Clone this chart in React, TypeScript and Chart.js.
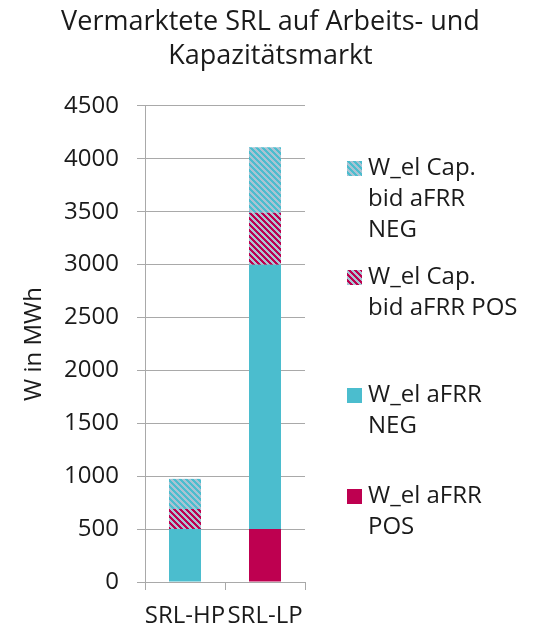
import React, { useEffect, useRef } from "react";
import { Chart, registerables } from "chart.js";

Chart.register(...registerables);

const categories = ["SRL-HP", "SRL-LP"];
const wElAfrrPos = [0, 500];
const wElAfrrNeg = [500, 2500];
const wElCapPos = [190, 490];
const wElCapNeg = [285, 620];

const seriesLabels = [
  "W_el aFRR POS",
  "W_el aFRR NEG",
  "W_el Cap. bid aFRR POS",
  "W_el Cap. bid aFRR NEG",
];
const legendLines = [
  ["W_el aFRR", "POS"],
  ["W_el aFRR", "NEG"],
  ["W_el Cap.", "bid aFRR POS"],
  ["W_el Cap.", "bid aFRR", "NEG"],
];
const titleLines = ["Vermarktete SRL auf Arbeits- und", "Kapazitätsmarkt"];
const yTitle = "W in MWh";

const CYAN = "#4BBDCE";
const CRIMSON = "#BE0050";
const LIGHT = "#A9C3D3";
const TEXT = "#1a1a1a";
const GRID = "#a9a9a9";
const FONT = "'Open Sans', 'Noto Sans', sans-serif";

// legend layout (drawn by a small plugin, right of the plot)
const LEGEND_BOX_X = 347;
const LEGEND_TEXT_X = 368;
const LEGEND_BOX = 15;
const LEGEND_ITEM_Y = [168, 277, 395, 496]; // first-line centres, top item first
const LEGEND_LINE_H = 31;
const Y_AXIS_WIDTH = 145;
const X_AXIS_HEIGHT = 45;
const RIGHT_SPACE = 236;

function makePattern(fg: string, bg: string): CanvasPattern | string {
  const size = 6;
  const c = document.createElement("canvas");
  c.width = size;
  c.height = size;
  const g = c.getContext("2d");
  if (!g) return fg;
  g.fillStyle = bg;
  g.fillRect(0, 0, size, size);
  g.fillStyle = fg;
  for (let y = 0; y < size; y++) {
    for (let x = 0; x < size; x++) {
      if ((x - y + size * 2) % size < 3) g.fillRect(x, y, 1, 1);
    }
  }
  const p = g.createPattern(c, "repeat");
  return p || fg;
}

const sideLegend = {
  id: "sideLegend",
  afterDraw(chart: any) {
    const ctx = chart.ctx as CanvasRenderingContext2D;
    const ds = chart.data.datasets;
    const order = ds.map((_: any, i: number) => i).reverse();
    ctx.save();
    ctx.font = `24px ${FONT}`;
    ctx.textBaseline = "middle";
    ctx.textAlign = "left";
    order.forEach((dsIndex: number, k: number) => {
      const cy = LEGEND_ITEM_Y[k];
      ctx.fillStyle = ds[dsIndex].backgroundColor;
      ctx.fillRect(LEGEND_BOX_X, Math.round(cy - LEGEND_BOX / 2), LEGEND_BOX, LEGEND_BOX);
      ctx.fillStyle = TEXT;
      legendLines[dsIndex].forEach((line, j) => {
        ctx.fillText(line, LEGEND_TEXT_X, cy + j * LEGEND_LINE_H);
      });
    });
    ctx.restore();
  },
};

export default function App() {
  const ref = useRef<HTMLCanvasElement | null>(null);

  useEffect(() => {
    const canvas = ref.current;
    if (!canvas) return;
    const capNegPattern = makePattern(CYAN, LIGHT);
    const capPosPattern = makePattern(CRIMSON, LIGHT);

    const chart = new Chart(canvas, {
      type: "bar",
      data: {
        labels: categories,
        datasets: [
          { label: seriesLabels[0], data: wElAfrrPos, backgroundColor: CRIMSON },
          { label: seriesLabels[1], data: wElAfrrNeg, backgroundColor: CYAN },
          { label: seriesLabels[2], data: wElCapPos, backgroundColor: capPosPattern as any },
          { label: seriesLabels[3], data: wElCapNeg, backgroundColor: capNegPattern as any },
        ],
      },
      plugins: [sideLegend],
      options: {
        animation: false,
        responsive: false,
        devicePixelRatio: 1,
        datasets: { bar: { barPercentage: 0.4, categoryPercentage: 1.0, borderWidth: 0 } } as any,
        layout: { padding: 0 },
        plugins: {
          title: {
            display: true,
            text: titleLines,
            color: TEXT,
            fullSize: true,
            font: { family: FONT, size: 27, weight: "normal", lineHeight: 1.24 },
            padding: { top: 6, bottom: 33 },
          },
          legend: { display: false },
          tooltip: { enabled: false },
        },
        scales: {
          x: {
            stacked: true,
            grid: { offset: true, drawOnChartArea: false, color: GRID, tickLength: 8 },
            border: { color: GRID },
            ticks: {
              color: TEXT,
              font: { family: FONT, size: 24 },
              padding: 12,
              maxRotation: 0,
              minRotation: 0,
              autoSkip: false,
            },
            afterFit: (s: any) => {
              s.height = X_AXIS_HEIGHT;
            },
          },
          y: {
            stacked: true,
            min: 0,
            max: 4500,
            grid: { color: GRID, tickLength: 8 },
            border: { color: GRID },
            ticks: {
              stepSize: 500,
              color: TEXT,
              font: { family: FONT, size: 24 },
              padding: 18,
              callback: (v: any) => String(v),
            },
            title: {
              display: true,
              text: yTitle,
              color: TEXT,
              font: { family: FONT, size: 24 },
              padding: { top: 20, bottom: 15 },
            },
            afterFit: (s: any) => {
              s.width = Y_AXIS_WIDTH;
            },
          },
          spacer: {
            position: "right",
            display: true,
            grid: { display: false },
            border: { display: false },
            ticks: { display: false },
            afterFit: (s: any) => {
              s.width = RIGHT_SPACE;
            },
          } as any,
        },
      },
    });
    return () => chart.destroy();
  }, []);

  return (
    <div style={{ position: "fixed", left: 0, top: 0, width: 541, height: 627, background: "#fff" }}>
      <canvas ref={ref} width={541} height={627} style={{ display: "block" }} />
    </div>
  );
}
